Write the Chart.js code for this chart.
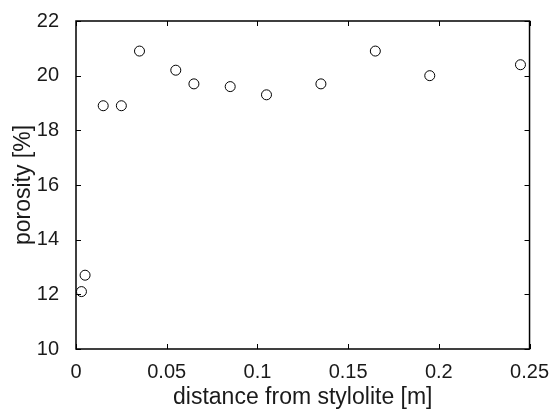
<!DOCTYPE html>
<html>
<head>
<meta charset="utf-8">
<script src="https://cdn.jsdelivr.net/npm/chart.js@4/dist/chart.umd.min.js"></script>
<style>
  html, body { margin: 0; padding: 0; background: #fff; }
  #wrap { width: 552px; height: 409px; }
</style>
</head>
<body>
<div id="wrap"><canvas id="chart"></canvas></div>
<script>
// distancia al estilolito [m] y porosidad [%]
const distance = [0.003, 0.005, 0.015, 0.025, 0.035, 0.055, 0.065, 0.085, 0.105, 0.135, 0.165, 0.195, 0.245];
const porosity = [12.1, 12.7, 18.9, 18.9, 20.9, 20.2, 19.7, 19.6, 19.3, 19.7, 20.9, 20.0, 20.4];
const xTickLabels = ['0', '0.05', '0.1', '0.15', '0.2', '0.25'];
const yTickLabels = ['10', '12', '14', '16', '18', '20', '22'];

const points = distance.map((d, i) => ({ x: d, y: porosity[i] }));

// Marcas hacia adentro y caja del eje (estilo MATLAB)
const boxTicks = {
  id: 'boxTicks',
  afterDraw(chart) {
    const ctx = chart.ctx;
    const a = chart.chartArea;
    const len = 5;
    ctx.save();
    ctx.strokeStyle = '#000';
    ctx.lineWidth = 1;
    ctx.beginPath();
    chart.scales.x.ticks.forEach(t => {
      const px = Math.round(chart.scales.x.getPixelForValue(t.value)) + 0.5;
      ctx.moveTo(px, a.bottom); ctx.lineTo(px, a.bottom - len);
      ctx.moveTo(px, a.top); ctx.lineTo(px, a.top + len);
    });
    chart.scales.y.ticks.forEach(t => {
      const py = Math.round(chart.scales.y.getPixelForValue(t.value)) + 0.5;
      ctx.moveTo(a.left, py); ctx.lineTo(a.left + len, py);
      ctx.moveTo(a.right, py); ctx.lineTo(a.right - len, py);
    });
    ctx.stroke();
    ctx.lineWidth = 1.5;
    ctx.strokeRect(a.left, a.top, a.right - a.left, a.bottom - a.top);
    ctx.restore();
  }
};

const tickFont = { family: "'Liberation Sans', Arial, sans-serif", size: 20 };
const titleFont = { family: "'Liberation Sans', Arial, sans-serif", size: 23, lineHeight: 1 };

new Chart(document.getElementById('chart').getContext('2d'), {
  type: 'scatter',
  data: {
    datasets: [{
      data: points,
      pointStyle: 'circle',
      pointRadius: 5,
      pointHoverRadius: 5,
      pointBackgroundColor: 'rgba(0,0,0,0)',
      pointBorderColor: '#000',
      pointBorderWidth: 1
    }]
  },
  options: {
    responsive: true,
    maintainAspectRatio: false,
    animation: false,
    layout: { padding: { top: 21, right: 22, left: 0, bottom: 0 } },
    plugins: { legend: { display: false }, tooltip: { enabled: false } },
    scales: {
      x: {
        type: 'linear',
        min: 0, max: 0.25,
        grid: { display: false },
        border: { display: false },
        ticks: {
          stepSize: 0.05,
          color: '#1a1a1a',
          font: tickFont,
          padding: 3,
          maxRotation: 0,
          callback: (v, i) => xTickLabels[i]
        },
        title: { display: true, text: 'distance from stylolite [m]', color: '#1a1a1a', font: titleFont, padding: { top: 0, bottom: 0 } },
        afterFit: s => { s.height = 60; }
      },
      y: {
        type: 'linear',
        min: 10, max: 22,
        grid: { display: false },
        border: { display: false },
        ticks: {
          stepSize: 2,
          color: '#1a1a1a',
          font: tickFont,
          padding: 9,
          callback: (v, i) => yTickLabels[i]
        },
        title: { display: true, text: 'porosity [%]', color: '#1a1a1a', font: titleFont, padding: { top: 12, bottom: 0 } },
        afterFit: s => { s.width = 76; }
      }
    }
  },
  plugins: [boxTicks]
});
</script>
</body>
</html>
